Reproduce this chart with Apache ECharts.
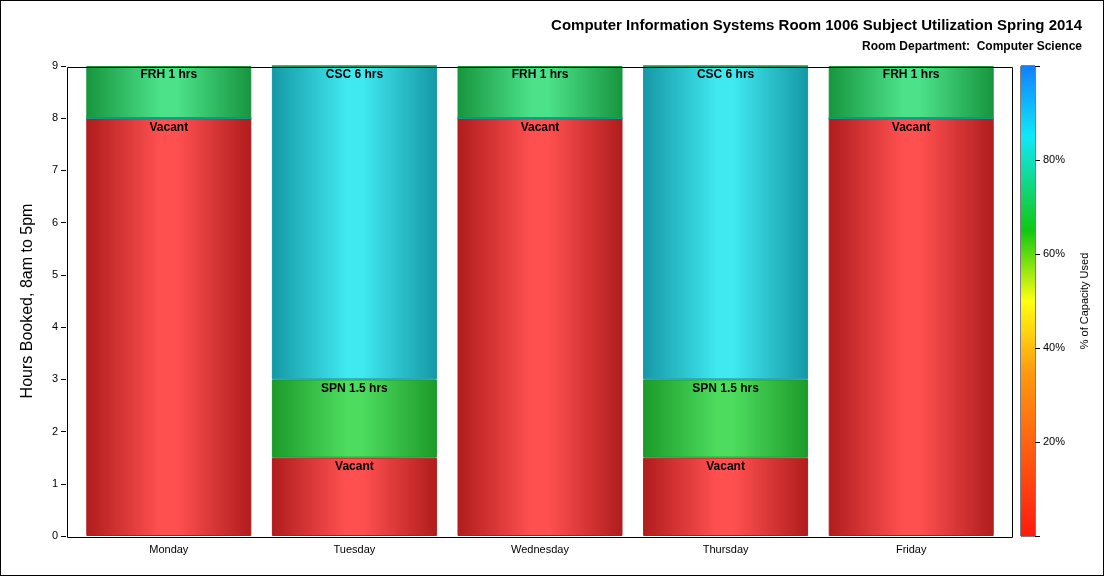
<!DOCTYPE html>
<html>
<head>
<meta charset="utf-8">
<script src="https://cdn.jsdelivr.net/npm/echarts@6/dist/echarts.min.js"></script>
<style>
  html, body { margin: 0; padding: 0; background: #fff; }
  #main { width: 1102px; height: 574px; border: 1px solid #000; }
</style>
</head>
<body>
<div id="main"></div>
<script>
var days = ["Monday", "Tuesday", "Wednesday", "Thursday", "Friday"];
var vacant = [8, 1.5, 8, 1.5, 8];
var spn = [0, 1.5, 0, 1.5, 0];
var csc = [0, 6, 0, 6, 0];
var frh = [1, 0, 1, 0, 1];
var vacantLabels = ["Vacant", "Vacant", "Vacant", "Vacant", "Vacant"];
var spnLabels = ["", "SPN 1.5 hrs", "", "SPN 1.5 hrs", ""];
var cscLabels = ["", "CSC 6 hrs", "", "CSC 6 hrs", ""];
var frhLabels = ["FRH 1 hrs", "", "FRH 1 hrs", "", "FRH 1 hrs"];
var capTicks = [20, 40, 60, 80];

var chart = echarts.init(document.getElementById("main"));

function shade(edge, mid) {
  return new echarts.graphic.LinearGradient(0, 0, 1, 0, [
    { offset: 0, color: edge },
    { offset: 0.45, color: mid },
    { offset: 0.55, color: mid },
    { offset: 1, color: edge }
  ]);
}

function stackSeries(name, data, labels, edge, mid) {
  return {
    name: name,
    type: "bar",
    stack: "hours",
    barWidth: 165,
    data: data,
    itemStyle: { color: shade(edge, mid), borderColor: edge, borderWidth: 1 },
    label: {
      show: true,
      position: "insideTop",
      distance: 3,
      color: "#000",
      fontWeight: "bold",
      fontSize: 12,
      fontFamily: "Arial, Liberation Sans",
      formatter: function (p) { return labels[p.dataIndex]; }
    }
  };
}

var option = {
  animation: false,
  textStyle: { fontFamily: "Arial, Liberation Sans" },
  title: [{
    text: "Computer Information Systems Room 1006 Subject Utilization Spring 2014",
    right: 16, top: 12,
    textStyle: { fontSize: 15, fontWeight: "bold", color: "#000" }
  }, {
    text: "Room Department:  Computer Science",
    right: 16, top: 35,
    textStyle: { fontSize: 12, fontWeight: "bold", color: "#000" }
  }],
  graphic: [{
    type: "rect", left: 64, top: 64, z: 10, silent: true,
    shape: { width: 945, height: 470 },
    style: { fill: null, stroke: "#000", lineWidth: 1 }
  }],
  grid: [
    { left: 75, top: 65, width: 928, height: 470 },
    { left: 1020, top: 65, width: 14, height: 470, show: true, borderColor: "#000", borderWidth: 1 }
  ],
  xAxis: [{
    type: "category", gridIndex: 0, data: days,
    axisLine: { show: false },
    axisTick: { alignWithLabel: true, lineStyle: { color: "#000" } },
    axisLabel: { color: "#000", fontSize: 11 }
  }, {
    type: "category", gridIndex: 1, data: ["c"], show: false
  }],
  yAxis: [{
    type: "value", gridIndex: 0, min: 0, max: 9, interval: 1, offset: 10,
    name: "Hours Booked, 8am to 5pm", nameLocation: "middle", nameGap: 30,
    nameTextStyle: { fontSize: 16, color: "#000" },
    axisLine: { show: false },
    axisTick: { show: true, lineStyle: { color: "#000" } },
    axisLabel: { color: "#000", fontSize: 11 },
    splitLine: { show: false }
  }, {
    type: "value", gridIndex: 1, min: 0, max: 100, interval: 20, position: "right",
    name: "% of Capacity Used", nameLocation: "middle", nameGap: 44, nameRotate: 90,
    nameTextStyle: { fontSize: 11, color: "#000" },
    axisLine: { show: false },
    axisTick: { show: true, length: 5, lineStyle: { color: "#000" } },
    axisLabel: {
      color: "#000", fontSize: 11,
      formatter: function (v) { return capTicks.indexOf(v) >= 0 ? v + "%" : ""; }
    },
    splitLine: { show: false }
  }],
  series: [
    stackSeries("Vacant", vacant, vacantLabels, "#b01c1c", "#ff5050"),
    stackSeries("SPN", spn, spnLabels, "#1c9a2a", "#4ddc5e"),
    stackSeries("CSC", csc, cscLabels, "#1598a6", "#40e8f0"),
    stackSeries("FRH", frh, frhLabels, "#17953e", "#4ce28a"),
    {
      type: "bar", xAxisIndex: 1, yAxisIndex: 1, data: [100], barWidth: "100%",
      itemStyle: {
        color: new echarts.graphic.LinearGradient(0, 1, 0, 0, [
          { offset: 0, color: "#ff1a10" },
          { offset: 0.35, color: "#ff9a10" },
          { offset: 0.5, color: "#ffff10" },
          { offset: 0.65, color: "#10c810" },
          { offset: 0.85, color: "#10e8f8" },
          { offset: 1, color: "#1080ff" }
        ])
      }
    }
  ]
};
chart.setOption(option);
</script>
</body>
</html>
